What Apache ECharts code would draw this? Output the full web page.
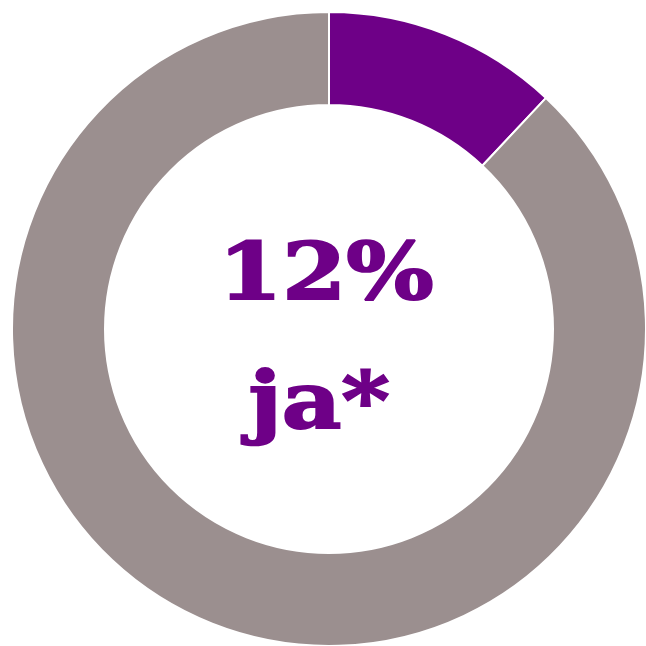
<!DOCTYPE html>
<html><head><meta charset="utf-8">
<script src="https://cdn.jsdelivr.net/npm/echarts@6/dist/echarts.min.js"></script>
<style>html,body{margin:0;padding:0;background:#fff}#c{width:646px;height:646px}</style>
</head><body><div id="c"></div>
<script>
var categories = ['ja', 'nein'];
var values = [12, 88];
var colors = ['#6e0087', '#9b8f8f'];
var centerLines = ['12%', 'ja*'];

var chart = echarts.init(document.getElementById('c'), null, {renderer: 'canvas'});
chart.setOption({
  animation: false,
  series: [{
    type: 'pie',
    center: [329, 329],
    radius: [224, 317],
    startAngle: 90,
    clockwise: true,
    label: {show: false},
    labelLine: {show: false},
    itemStyle: {borderColor: '#fff', borderWidth: 2},
    data: categories.map(function (c, i) {
      return {name: c, value: values[i], itemStyle: {color: colors[i]}};
    })
  }],
  graphic: [
    {type: 'text', x: 326, y: 279, scaleX: 1.18,
      style: {text: centerLines[0], x: 0, y: 0, align: 'center', verticalAlign: 'middle',
      font: 'bold 78px "DejaVu Serif"', fill: '#6e0087', stroke: '#6e0087', lineWidth: 2}},
    {type: 'text', x: 319, y: 408, scaleX: 1.18,
      style: {text: centerLines[1], x: 0, y: 0, align: 'center', verticalAlign: 'middle',
      font: 'bold 78px "DejaVu Serif"', fill: '#6e0087', stroke: '#6e0087', lineWidth: 2}}
  ]
});
</script></body></html>
